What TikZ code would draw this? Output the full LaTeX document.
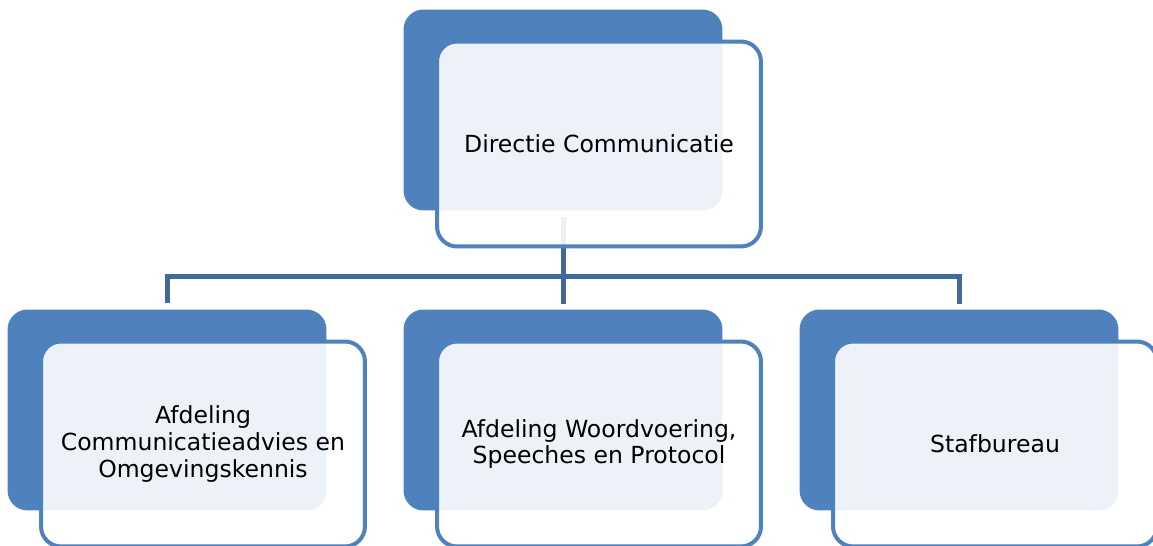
\documentclass[tikz,border=0pt]{standalone}
\usepackage{fontspec}
\setmainfont{DejaVu Sans}
\definecolor{accblue}{RGB}{79,129,189}
\definecolor{lineblue}{RGB}{65,105,155}

\begin{document}
\begin{tikzpicture}[x=.02cm, y=-.02cm,
  back/.style={fill=accblue, rounded corners=.4cm, minimum width=6.38cm, minimum height=4.02cm},
  front/.style={draw=accblue, line width=.08cm, fill=white, fill opacity=.9, text opacity=1, rounded corners=.4cm, minimum width=6.48cm, minimum height=4.1cm, align=center, font=\fontsize{13.4}{15.2}\selectfont},
  conn/.style={draw=lineblue, line width=.1cm, shorten <=.12cm, shorten >=.1cm}]
\useasboundingbox (0,0) rectangle (1153,546);

\node[back] (dirB) at (563,110) {};
\node[back] (afdB) at (167,410) {};
\node[back] (woordB) at (563,410) {};
\node[back] (stafB) at (959,410) {};

\coordinate (bar) at (563,277);
\draw[conn] (afdB.north) |- (stafB.north |- bar) -- (stafB.north);
\draw[conn] (dirB.south) -- (woordB.north);

\node[front] (dir) at (599,144) {Directie Communicatie};
\node[front] (afd) at (203,444) {Afdeling\\Communicatieadvies en\\Omgevingskennis};
\node[front] (woord) at (599,444) {Afdeling Woordvoering,\\Speeches en Protocol};
\node[front] (staf) at (995,444) {Stafbureau};
\end{tikzpicture}
\end{document}
